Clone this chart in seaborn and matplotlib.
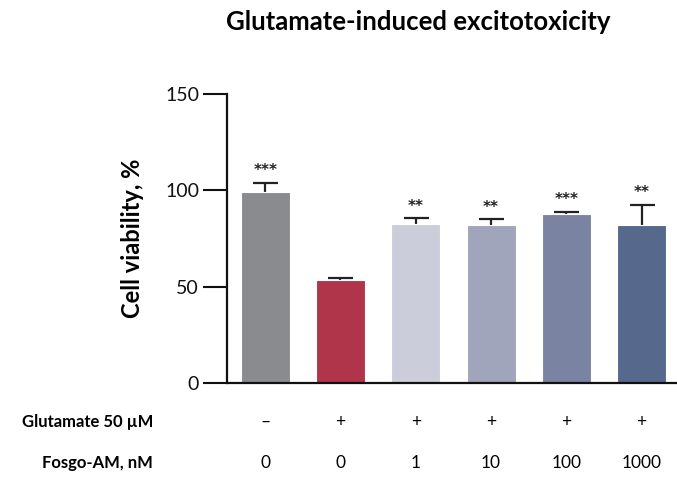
import numpy as np
import pandas as pd
import seaborn as sns
import matplotlib.pyplot as plt
from matplotlib import transforms

sns.set_style('ticks')
plt.rcParams['font.family'] = ['Lato', 'DejaVu Sans']
plt.rcParams['text.color'] = 'black'
plt.rcParams['axes.labelcolor'] = 'black'
plt.rcParams['ytick.labelcolor'] = '#111111'

groups = ['g1', 'g2', 'g3', 'g4', 'g5', 'g6']
viability = [99.1, 53.3, 82.7, 82.2, 88.0, 81.8]
sem = [5.0, 1.2, 2.8, 2.7, 0.9, 10.7]
stars = ['***', '', '**', '**', '***', '**']
glutamate = ['\u2013', '+', '+', '+', '+', '+']
fosgo = ['0', '0', '1', '10', '100', '1000']
colors = ['#8a8b8f', '#b0354a', '#cbcdda', '#a1a5bb', '#7a84a2', '#56688c']

df = pd.DataFrame({'group': groups, 'viability': viability})

fig = plt.figure(figsize=(6.77, 4.78), dpi=100)
ax = fig.add_axes([0.335, 0.199, 0.665, 0.604])

sns.barplot(data=df, x='group', y='viability', hue='group', palette=colors,
            order=groups, width=0.65, legend=False, ax=ax, saturation=1,
            edgecolor='white', linewidth=0.8, zorder=2)

# upper error only, no lower cap
x = np.arange(len(groups))
eb = ax.errorbar(x, viability, yerr=[np.zeros(len(sem)), sem], fmt='none',
                 ecolor='#222222', elinewidth=1.6, capsize=9, capthick=1.6, zorder=1)
eb[1][0].set_visible(False)

for i, (v, s, st) in enumerate(zip(viability, sem, stars)):
    if st:
        ax.text(i, v + s + 6.2, st, ha='center', va='center', fontsize=11,
                fontweight='bold', color='#222222', family='DejaVu Sans')

ax.set_xlim(-0.51, 5.47)
ax.set_ylim(0, 150)
ax.set_yticks([0, 50, 100, 150])
ax.tick_params(axis='y', length=17, width=1.5, labelsize=14, pad=3, color='#111111')
ax.tick_params(axis='x', length=0, labelbottom=False)
ax.set_xlabel('')
ax.set_ylabel('Cell viability, %', fontsize=17, fontweight='bold', labelpad=15)
sns.despine(ax=ax)
for side in ['left', 'bottom']:
    ax.spines[side].set_linewidth(1.6)
    ax.spines[side].set_color('#111111')

trans = transforms.blended_transform_factory(ax.transData, ax.transAxes)
for i, (g, f) in enumerate(zip(glutamate, fosgo)):
    ax.text(i, -0.135, g, transform=trans, ha='center', va='center', fontsize=12.5)
    ax.text(i, -0.277, f, transform=trans, ha='center', va='center', fontsize=12.5)
fig.text(153 / 677, 1 - 422 / 478, 'Glutamate 50 \u00b5M', ha='right', va='center',
         fontsize=12, fontweight='bold')
fig.text(153 / 677, 1 - 463 / 478, 'Fosgo-AM, nM', ha='right', va='center',
         fontsize=12, fontweight='bold')

fig.text(418 / 677, 1 - 22 / 478, 'Glutamate-induced excitotoxicity', ha='center',
         va='center', fontsize=18.5, fontweight='bold')

fig.savefig('out.png', dpi=100)
